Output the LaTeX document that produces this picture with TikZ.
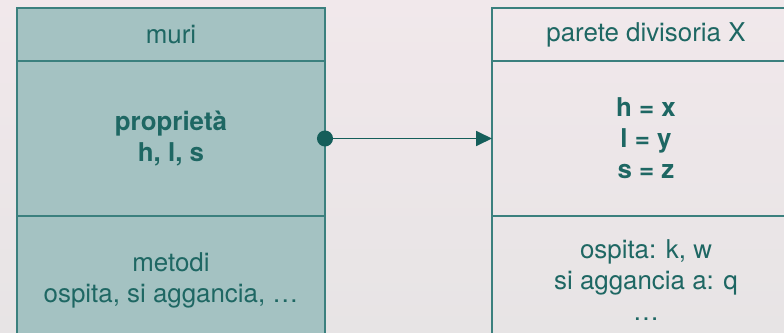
\documentclass[tikz,border=0pt]{standalone}
\usepackage{fontspec}
\setmainfont{TeX Gyre Heros}
\usetikzlibrary{positioning,arrows.meta}
\definecolor{bgtop}{HTML}{F1E8EB}
\definecolor{bgbottom}{HTML}{E7E4E5}
\definecolor{tealfill}{HTML}{A4C2C2}
\definecolor{tealline}{HTML}{3B807E}
\definecolor{tealtext}{HTML}{1E6763}
\definecolor{tealdark}{HTML}{155E5A}
\tikzset{
  part/.style={draw=tealline, line width=2bp, minimum width=308bp, inner sep=0pt,
    outer sep=0pt, text=tealtext, align=center, font=\fontsize{26}{31}\selectfont},
  classpart/.style={part, fill=tealfill},
  objpart/.style={part},
  boldpart/.style={font=\fontsize{26}{31}\selectfont\bfseries},
}

\begin{document}
\begin{tikzpicture}[x=1bp,y=1bp]
	%%%%% START %%%%%
	\useasboundingbox (0,0) rectangle (784,332);
	\shade[top color=bgtop, bottom color=bgbottom] (0,0) rectangle (784,332);
	\clip (0,0) rectangle (784,332);
	
	% classe
	\node[classpart, minimum height=53bp, anchor=north west] (mhead) at (17,324) {muri};
	\node[classpart, boldpart, minimum height=155bp, below=0pt of mhead] (mprop) {proprietà\\h, l, s};
	\node[classpart, minimum height=128bp, below=0pt of mprop] (mmeth) {metodi\\ospita, si aggancia, \dots};
	
	% oggetto
	\node[objpart, minimum height=53bp, anchor=north west] (xhead) at (492,324) {parete divisoria X};
	\node[objpart, boldpart, minimum height=155bp, below=0pt of xhead] (xprop) {h = x\\l = y\\s = z};
	\node[objpart, minimum height=128bp, below=0pt of xprop] (xmeth) {ospita: k, w\\si aggancia a: q\\\dots};
	
	\draw[tealdark, line width=1.8bp, shorten <=-8bp,
	  {Circle[length=16bp]}-{Triangle[length=16bp,width=15bp]}] (mprop.east) -- (xprop.west);
	
	%%%%% END %%%%%
\end{tikzpicture}
\end{document}
